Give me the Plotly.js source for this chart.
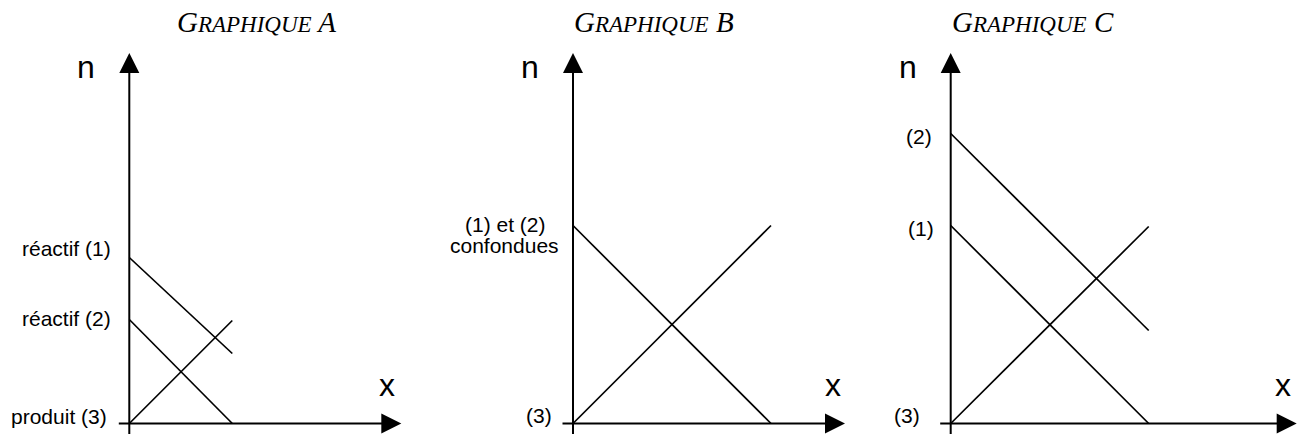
<!DOCTYPE html>
<html>
<head>
<meta charset="utf-8">
<script src="https://cdn.plot.ly/plotly-3.0.1.min.js"></script>
<style>html,body{margin:0;padding:0;background:#fff}</style>
</head>
<body>
<div id="chart" style="width:1298px;height:434px"></div>
<script>
// x = avancement, n = quantité de matière (extrémités des droites)
const xA = [0, 1.03];
const reactif1A = [1.66, 0.70];
const reactif2A = [1.04, 0];
const produitA = [0, 1.03];

const xB = [0, 1.98];
const reactifsB = [1.98, 0];
const produitB = [0, 1.98];

const xC = [0, 1.98];
const reactif2C = [2.9, 0.93];
const reactif1C = [1.98, 0];
const produitC = [0, 1.97];

const panelNames = ["A", "B", "C"];

// geometry: 100 px per unit, shared baseline
const W = 1298, H = 434, U = 100, oy = 423.5;
const ox = [129.3, 573, 950.7];
const xTip = [2.72, 2.72, 3.46];
const yTip = 3.705;
const axKeys = ["x", "x2", "x3"];

function line(i, x, y) {
  return {
    x: x, y: y, xaxis: axKeys[i], yaxis: "y",
    mode: "lines", line: {color: "#000", width: 1.7},
    hoverinfo: "skip", showlegend: false
  };
}

const data = [
  line(0, xA, reactif1A), line(0, xA, reactif2A), line(0, xA, produitA),
  line(1, xB, reactifsB), line(1, xB, produitB),
  line(2, xC, reactif2C), line(2, xC, reactif1C), line(2, xC, produitC)
];

const labelFont = {family: "Liberation Sans, Arial, sans-serif", size: 21, color: "#000"};
const bigFont = {family: "Liberation Sans, Arial, sans-serif", size: 32, color: "#000"};

function arrow(i, x, y, ax, ay) {
  return {
    xref: axKeys[i], yref: "y", axref: axKeys[i], ayref: "y",
    x: x, y: y, ax: ax, ay: ay, text: "", showarrow: true,
    arrowhead: 2, arrowsize: 2, arrowwidth: 2, arrowcolor: "#000",
    standoff: 0, startstandoff: 0, borderpad: 0, font: {size: 1}
  };
}

function label(i, text, x, y, anchor, font) {
  return {
    xref: axKeys[i], yref: "y", x: x, y: y, text: text, showarrow: false,
    xanchor: anchor, yanchor: "middle", font: font, borderpad: 0
  };
}

const annotations = [];
for (let i = 0; i < 3; i++) {
  annotations.push(arrow(i, 0, yTip, 0, -0.11));
  annotations.push(arrow(i, xTip[i], 0, -0.11, 0));
  annotations.push(label(i, "n", -0.43, 3.57, "center", bigFont));
  annotations.push(label(i, "x", [2.577, 2.595, 3.318][i], 0.39, "center", bigFont));
  annotations.push({
    xref: axKeys[i], yref: "y", x: [1.272, 0.81, 0.818][i], y: 4.02,
    text: "G<span style=\"font-size:23px\">RAPHIQUE</span> " + panelNames[i],
    showarrow: false, xanchor: "center", yanchor: "middle",
    font: {family: "Liberation Serif, Times New Roman, serif", size: 29, style: "italic", color: "#000"}
  });
}
annotations.push(label(0, "réactif (1)", -0.175, 1.755, "right", labelFont));
annotations.push(label(0, "réactif (2)", -0.175, 1.05, "right", labelFont));
annotations.push(label(0, "produit (3)", -0.21, 0.07, "right", labelFont));
annotations.push(label(1, "(1) et (2)", -0.677, 1.995, "center", labelFont));
annotations.push(label(1, "confondues", -0.683, 1.78, "center", labelFont));
annotations.push(label(1, "(3)", -0.2, 0.085, "right", labelFont));
annotations.push(label(2, "(2)", -0.18, 2.87, "right", labelFont));
annotations.push(label(2, "(1)", -0.16, 1.955, "right", labelFont));
annotations.push(label(2, "(3)", -0.3, 0.085, "right", labelFont));

const hidden = {showgrid: false, zeroline: false, showticklabels: false, showline: false, ticks: "", fixedrange: true};

const layout = {
  width: W, height: H,
  margin: {l: 0, r: 0, t: 0, b: 0, pad: 0},
  paper_bgcolor: "#fff", plot_bgcolor: "#fff",
  showlegend: false,
  yaxis: Object.assign({range: [(oy - H) / U, oy / U], domain: [0, 1]}, hidden),
  annotations: annotations
};
for (let i = 0; i < 3; i++) {
  const key = i === 0 ? "xaxis" : "xaxis" + (i + 1);
  layout[key] = Object.assign({range: [-ox[i] / U, (W - ox[i]) / U], domain: [0, 1], anchor: "y"}, hidden);
  if (i > 0) layout[key].overlaying = "x";
}

Plotly.newPlot("chart", data, layout, {staticPlot: true, displayModeBar: false});
</script>
</body>
</html>
